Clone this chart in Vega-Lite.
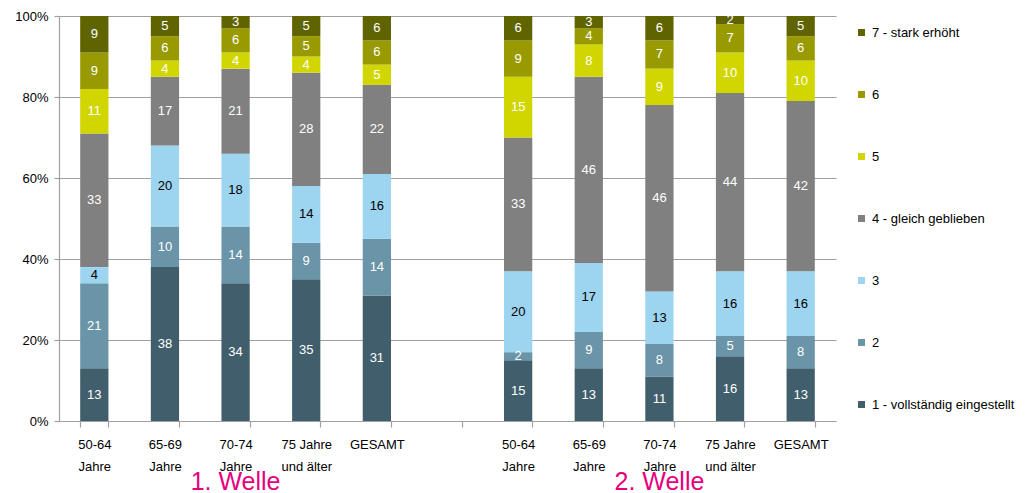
{
  "$schema": "https://vega.github.io/schema/vega-lite/v6.json",
  "width": 777,
  "height": 405,
  "autosize": {"type": "none"},
  "padding": {"left": 59, "top": 16, "right": 196, "bottom": 72},
  "background": "white",
  "config": {"font": "Liberation Sans", "view": {"stroke": null}},
  "datasets": {
    "bars": [
      {"slot": "1|50-64|Jahre", "1 - vollständig eingestellt": 13, "2": 21, "3": 4, "4 - gleich geblieben": 33, "5": 11, "6": 9, "7 - stark erhöht": 9},
      {"slot": "1|65-69|Jahre", "1 - vollständig eingestellt": 38, "2": 10, "3": 20, "4 - gleich geblieben": 17, "5": 4, "6": 6, "7 - stark erhöht": 5},
      {"slot": "1|70-74|Jahre", "1 - vollständig eingestellt": 34, "2": 14, "3": 18, "4 - gleich geblieben": 21, "5": 4, "6": 6, "7 - stark erhöht": 3},
      {"slot": "1|75 Jahre|und älter", "1 - vollständig eingestellt": 35, "2": 9, "3": 14, "4 - gleich geblieben": 28, "5": 4, "6": 5, "7 - stark erhöht": 5},
      {"slot": "1|GESAMT", "1 - vollständig eingestellt": 31, "2": 14, "3": 16, "4 - gleich geblieben": 22, "5": 5, "6": 6, "7 - stark erhöht": 6},
      {"slot": "2|50-64|Jahre", "1 - vollständig eingestellt": 15, "2": 2, "3": 20, "4 - gleich geblieben": 33, "5": 15, "6": 9, "7 - stark erhöht": 6},
      {"slot": "2|65-69|Jahre", "1 - vollständig eingestellt": 13, "2": 9, "3": 17, "4 - gleich geblieben": 46, "5": 8, "6": 4, "7 - stark erhöht": 3},
      {"slot": "2|70-74|Jahre", "1 - vollständig eingestellt": 11, "2": 8, "3": 13, "4 - gleich geblieben": 46, "5": 9, "6": 7, "7 - stark erhöht": 6},
      {"slot": "2|75 Jahre|und älter", "1 - vollständig eingestellt": 16, "2": 5, "3": 16, "4 - gleich geblieben": 44, "5": 10, "6": 7, "7 - stark erhöht": 2},
      {"slot": "2|GESAMT", "1 - vollständig eingestellt": 13, "2": 8, "3": 16, "4 - gleich geblieben": 42, "5": 10, "6": 6, "7 - stark erhöht": 5}
    ],
    "waves": [
      {"slot": "1|70-74|Jahre", "label": "1. Welle"},
      {"slot": "2|70-74|Jahre", "label": "2. Welle"}
    ]
  },
  "layer": [
    {
      "data": {"name": "bars"},
      "transform": [
        {"fold": ["1 - vollständig eingestellt", "2", "3", "4 - gleich geblieben", "5", "6", "7 - stark erhöht"], "as": ["key", "value"]},
        {"stack": "value", "groupby": ["slot"], "sort": [{"field": "key", "order": "ascending"}], "as": ["y0", "y1"]}
      ],
      "mark": {"type": "bar"},
      "encoding": {
        "x": {
          "field": "slot", "type": "nominal",
          "scale": {
            "domain": ["1|50-64|Jahre", "1|65-69|Jahre", "1|70-74|Jahre", "1|75 Jahre|und älter", "1|GESAMT", "gap", "2|50-64|Jahre", "2|65-69|Jahre", "2|70-74|Jahre", "2|75 Jahre|und älter", "2|GESAMT"],
            "paddingInner": 0.6, "paddingOuter": 0.3
          },
          "axis": {
            "title": null, "labelAngle": 0, "labelFontSize": 13, "labelColor": "#000000",
            "labelExpr": "datum.value == 'gap' ? '' : slice(split(datum.value, '|'), 1)",
            "labelLineHeight": 22, "labelPadding": 11, "tickBand": "extent", "tickSize": 6,
            "tickColor": "#a0a0a0", "domainColor": "#a0a0a0", "domainWidth": 1.2, "tickWidth": 1.2, "grid": false
          }
        },
        "y": {
          "field": "y0", "type": "quantitative",
          "scale": {"domain": [0, 100]},
          "axis": {
            "title": null, "values": [0, 20, 40, 60, 80, 100], "labelExpr": "datum.value + '%'",
            "labelFontSize": 13, "labelColor": "#000000", "tickSize": 5, "labelPadding": 6,
            "tickColor": "#a0a0a0", "domainColor": "#a0a0a0", "gridColor": "#a0a0a0", "gridWidth": 1.2, "domainWidth": 1.2, "tickWidth": 1.2
          }
        },
        "y2": {"field": "y1"},
        "color": {
          "field": "key", "type": "nominal",
          "scale": {
            "domain": ["7 - stark erhöht", "6", "5", "4 - gleich geblieben", "3", "2", "1 - vollständig eingestellt"],
            "range": ["#606400", "#999900", "#D2D600", "#808080", "#9DD4F0", "#6A94A8", "#415E6C"]
          },
          "legend": {
            "title": null, "orient": "none", "legendX": 796, "legendY": 10, "symbolType": "square",
            "symbolSize": 49, "symbolStrokeWidth": 0, "labelFontSize": 13, "labelColor": "#000000",
            "rowPadding": 48, "labelOffset": 4, "padding": 0
          }
        }
      }
    },
    {
      "data": {"name": "bars"},
      "transform": [
        {"fold": ["1 - vollständig eingestellt", "2", "3", "4 - gleich geblieben", "5", "6", "7 - stark erhöht"], "as": ["key", "value"]},
        {"stack": "value", "groupby": ["slot"], "sort": [{"field": "key", "order": "ascending"}], "as": ["y0", "y1"]},
        {"calculate": "(datum.y0 + datum.y1) / 2", "as": "mid"}
      ],
      "mark": {"type": "text", "fontSize": 13, "baseline": "middle", "align": "center"},
      "encoding": {
        "x": {"field": "slot", "type": "nominal"},
        "y": {"field": "mid", "type": "quantitative"},
        "text": {"field": "value", "type": "quantitative"},
        "color": {"condition": {"test": "datum.key === '3'", "value": "#000000"}, "value": "#ffffff"}
      }
    },
    {
      "data": {"name": "waves"},
      "mark": {"type": "text", "fontSize": 25, "color": "#E6007E", "baseline": "alphabetic", "align": "center", "dy": 69},
      "encoding": {
        "x": {"field": "slot", "type": "nominal"},
        "y": {"datum": 0, "type": "quantitative"},
        "text": {"field": "label"}
      }
    }
  ]
}
